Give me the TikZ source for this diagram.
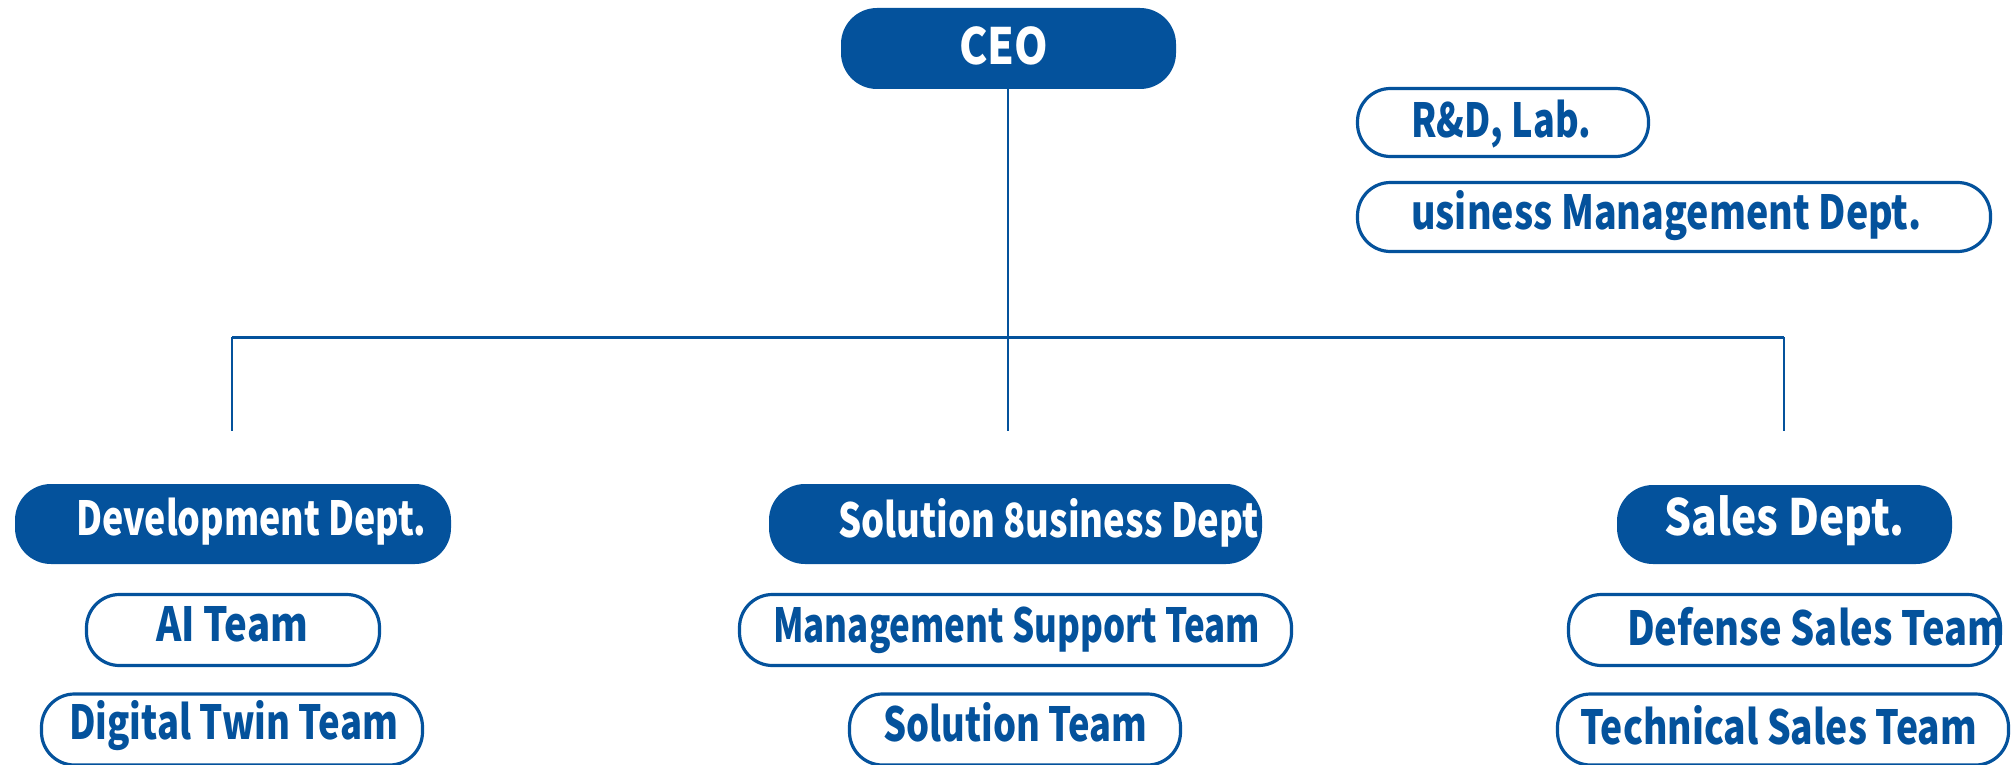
\documentclass[tikz,border=0pt]{standalone}
\usepackage{fontspec}
\usepackage{graphicx}
\newfontfamily\krfont{Noto Sans CJK KR}
\definecolor{navy}{HTML}{04529C}
\newcommand\fitlbl[2]{\resizebox{#1pt}{\height}{#2}}
\tikzset{
  fillbox/.style={draw=none, fill=navy, rounded corners=36pt, inner sep=0pt},
  outbox/.style={draw=navy, line width=3.2pt, fill=white, rounded corners=33pt, inner sep=0pt},
  wtxt/.style={anchor=base west, inner sep=0pt, text=white, font=\krfont\bfseries\fontsize{50}{54}\selectfont},
  btxt/.style={anchor=base west, inner sep=0pt, text=navy, font=\krfont\bfseries\fontsize{47}{50}\selectfont},
  link/.style={draw=navy, line width=2pt},
  busline/.style={draw=navy, line width=3pt}
}
\begin{document}
\begin{tikzpicture}[x=1pt,y=-1pt]
\useasboundingbox (0,0) rectangle (2012,765);
\clip (0,0) rectangle (2012,765);
% boxes
\node[fillbox, minimum width=335pt, minimum height=81pt] (ceo) at (1008.5,48.5) {};
\node[outbox, minimum width=291pt, minimum height=68pt] (rnd) at (1503,122.5) {};
\node[outbox, minimum width=633pt, minimum height=69pt] (bmd) at (1674,217) {};
\node[fillbox, minimum width=436pt, minimum height=80pt] (dev) at (233,524) {};
\node[fillbox, minimum width=493pt, minimum height=80pt] (sol) at (1015.5,524) {};
\node[fillbox, minimum width=335pt, minimum height=79pt] (sales) at (1784.5,524.5) {};
\node[outbox, minimum width=293pt, minimum height=71pt] (ai) at (233,630) {};
\node[outbox, minimum width=552pt, minimum height=71pt] (mst) at (1015.5,630) {};
\node[outbox, minimum width=432pt, minimum height=71pt] (dst) at (1784.5,630) {};
\node[outbox, minimum width=381pt, minimum height=71pt] (dtt) at (232,729.5) {};
\node[outbox, minimum width=331pt, minimum height=71pt] (st) at (1015,729.5) {};
\node[outbox, minimum width=451pt, minimum height=71pt] (tst) at (1783,729.5) {};
% connectors
\coordinate (hub) at (1008,337);
\coordinate (hubL) at (232,337);
\coordinate (hubR) at (1784,337);
\coordinate (endL) at (232,431);
\coordinate (endC) at (1008,431);
\coordinate (endR) at (1784,431);
\draw[link] (ceo.south -| hub) -- (endC);
\draw[busline] (hubL) -- (hubR);
\draw[link] (hubL) -- (endL);
\draw[link] (hubR) -- (endR);
% labels
\node[wtxt] (t-ceo) at (959,65) {\fitlbl{89}{CEO}};
\node[btxt] (t-rnd) at (1411,137) {\fitlbl{180}{R\&D, Lab.}};
\node[btxt] (t-bmd) at (1411,229) {\fitlbl{510}{usiness Management Dept.}};
\node[wtxt, font=\krfont\bfseries\fontsize{47}{50}\selectfont] (t-dev) at (76,535) {\fitlbl{350}{Development Dept.}};
\node[wtxt, font=\krfont\bfseries\fontsize{47}{50}\selectfont] (t-sol) at (838,537) {\fitlbl{420}{Solution 8usiness Dept}};
\node[wtxt] (t-sales) at (1664,535) {\fitlbl{240}{Sales Dept.}};
\node[btxt] (t-ai) at (156,641) {\fitlbl{152}{AI Team}};
\node[btxt] (t-mst) at (773,642) {\fitlbl{487}{Management Support Team}};
\node[btxt] (t-dst) at (1627,645) {\fitlbl{378}{Defense Sales Team}};
\node[btxt] (t-dtt) at (69,739) {\fitlbl{329}{Digital Twin Team}};
\node[btxt] (t-st) at (883,741) {\fitlbl{264}{Solution Team}};
\node[btxt] (t-tst) at (1580,744) {\fitlbl{397}{Technical Sales Team}};
\end{tikzpicture}
\end{document}
